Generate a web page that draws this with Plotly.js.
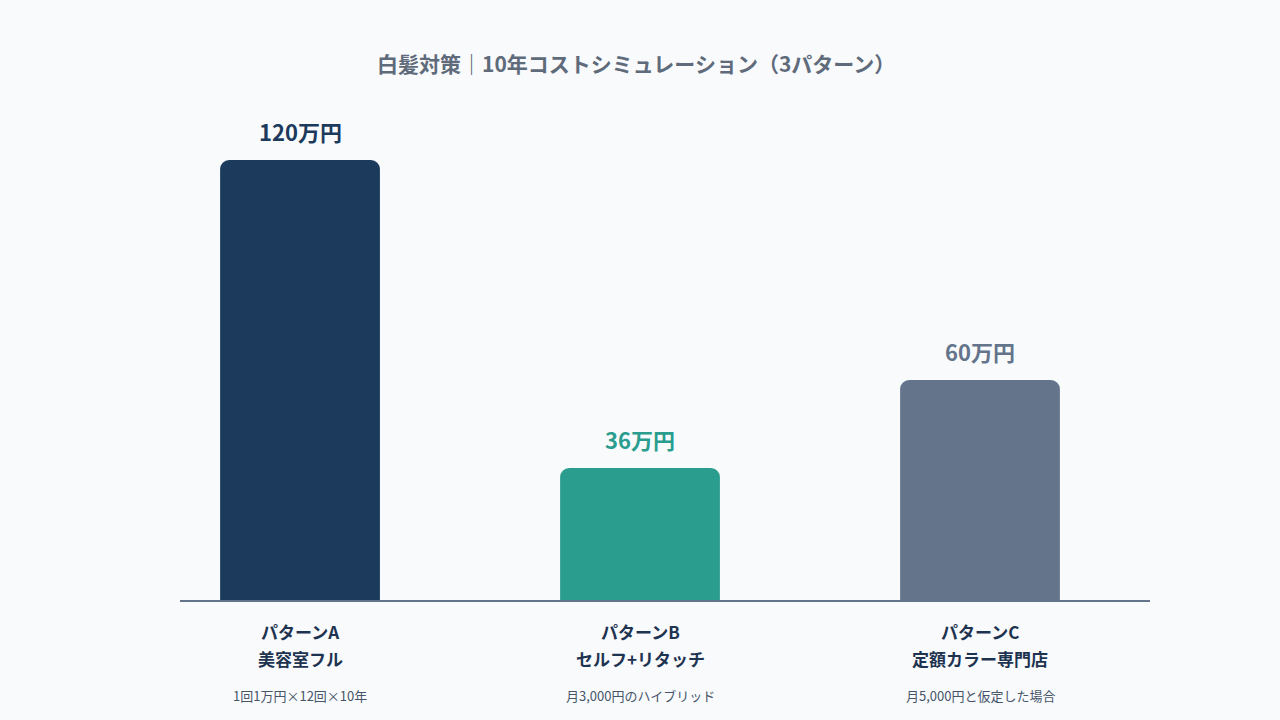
<!DOCTYPE html>
<html>
<head>
<meta charset="utf-8">
<script src="https://cdn.plot.ly/plotly-3.0.1.min.js"></script>
<style>
  html, body { margin: 0; padding: 0; background: #f8fafc; }
  #chart { width: 1280px; height: 720px; }
</style>
</head>
<body>
<div id="chart"></div>
<script>
var patterns = ['パターンA', 'パターンB', 'パターンC'];
var names = ['美容室フル', 'セルフ+リタッチ', '定額カラー専門店'];
var notes = ['1回1万円×12回×10年', '月3,000円のハイブリッド', '月5,000円と仮定した場合'];
var costs = [120, 36, 60];
var valueLabels = ['120万円', '36万円', '60万円'];
var barColors = ['#1b3a5c', '#2a9d8f', '#64748b'];

var font = '"Noto Sans CJK JP", "Noto Sans", sans-serif';

var trace = {
    x: [0, 1, 2],
    y: costs,
    type: 'bar',
    width: 0.47,
    marker: { color: barColors, line: { width: 0 } },
    hoverinfo: 'none',
    showlegend: false
};

var annotations = [];
for (var i = 0; i < costs.length; ++i) {
    // value above the bar
    annotations.push({
        x: i, y: costs[i], xref: 'x', yref: 'y',
        text: '<b>' + valueLabels[i] + '</b>',
        showarrow: false, yanchor: 'middle', yshift: 29,
        font: { family: font, size: 22, color: barColors[i] }
    });
    // category name, two lines
    annotations.push({
        x: i, y: 0, xref: 'x', yref: 'y',
        text: '<b>' + patterns[i] + '</b>',
        showarrow: false, yanchor: 'middle', yshift: -31,
        font: { family: font, size: 17, color: '#1e3350' }
    });
    annotations.push({
        x: i, y: 0, xref: 'x', yref: 'y',
        text: '<b>' + names[i] + '</b>',
        showarrow: false, yanchor: 'middle', yshift: -58,
        font: { family: font, size: 17, color: '#1e3350' }
    });
    // small note
    annotations.push({
        x: i, y: 0, xref: 'x', yref: 'y',
        text: notes[i],
        showarrow: false, yanchor: 'middle', yshift: -95,
        font: { family: font, size: 13, color: '#475569' }
    });
}

var layout = {
    width: 1280,
    height: 720,
    paper_bgcolor: '#f8fafc',
    plot_bgcolor: '#f8fafc',
    margin: { l: 180, r: 130, t: 100, b: 120 },
    title: {
        text: '<b>白髪対策｜10年コストシミュレーション（3パターン）</b>',
        x: 0.497, xanchor: 'center', y: 0.91, yanchor: 'middle',
        font: { family: font, size: 21, color: '#5f6b7a' }
    },
    barcornerradius: 9,
    xaxis: {
        range: [-0.353, 2.5],
        showticklabels: false,
        showgrid: false,
        zeroline: false,
        showline: true,
        linecolor: '#64748b',
        linewidth: 2,
        ticks: '',
        fixedrange: true
    },
    yaxis: {
        range: [0, 136.36],
        showticklabels: false,
        showgrid: false,
        zeroline: false,
        showline: false,
        fixedrange: true
    },
    annotations: annotations
};

Plotly.newPlot('chart', [trace], layout, { displayModeBar: false, staticPlot: true });
</script>
</body>
</html>
